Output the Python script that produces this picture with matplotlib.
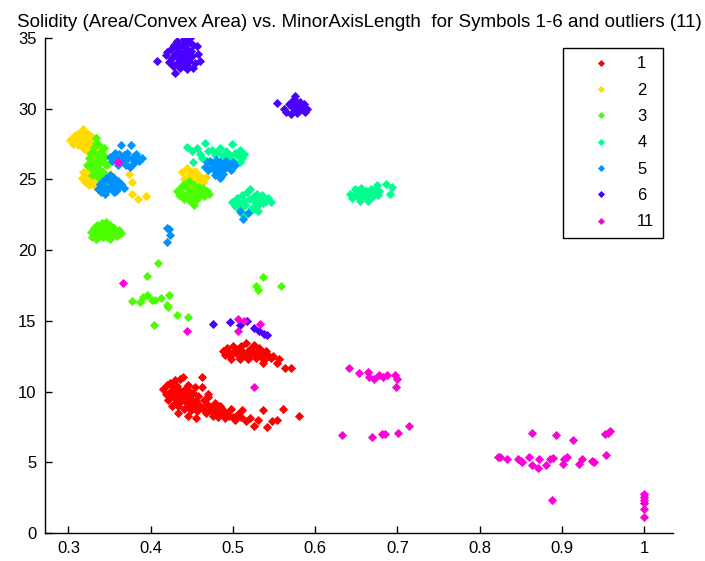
import matplotlib
matplotlib.use("Agg")
import matplotlib.pyplot as plt

plt.rcParams['font.family'] = ['Liberation Sans', 'DejaVu Sans']

title = "Solidity (Area/Convex Area) vs. MinorAxisLength  for Symbols 1-6 and outliers (11)"
labels = ["1", "2", "3", "4", "5", "6", "11"]
colors = ["#FF0000", "#FFDB00", "#49FF00", "#00FF92", "#0092FF", "#4900FF", "#FF00DB"]
xticks = [0.3, 0.4, 0.5, 0.6, 0.7, 0.8, 0.9, 1.0]
xticklabels = ["0.3", "0.4", "0.5", "0.6", "0.7", "0.8", "0.9", "1"]
yticks = [0, 5, 10, 15, 20, 25, 30, 35]

# ---- Symbol 1 (red)
s1_x = [0.488,0.490,0.493,0.495,0.497,0.500,0.502,0.504,0.506,0.508,0.510,0.512,0.514,0.516,0.518,0.520,0.522,0.524,0.526,0.528,0.530,0.532,0.534,0.536,0.538,0.540,0.543,0.546,0.549,0.553,0.556,0.563,0.571,0.498,0.508,0.518,0.528,0.537,
        0.415,0.418,0.420,0.421,0.423,0.424,0.425,0.427,0.428,0.429,0.430,0.431,0.432,0.433,0.434,0.435,0.436,0.437,0.438,0.439,0.440,0.441,0.442,0.443,0.444,0.445,0.446,0.447,0.448,0.449,0.450,0.451,0.452,0.453,0.454,0.455,0.456,0.458,0.460,0.462,0.463,0.465,0.467,0.469,0.470,0.472,0.474,0.476,0.478,0.480,0.482,0.484,0.486,0.488,0.490,0.492,0.495,0.498,0.500,0.503,0.506,0.510,0.511,0.516,0.521,0.526,0.531,0.536,0.542,0.547,0.553,0.561,0.580,0.462,0.470,0.445,0.455,0.433,0.439,0.426]
s1_y = [12.9,12.6,13.1,12.8,12.5,13.2,12.9,12.7,13.0,12.4,13.2,12.8,12.6,13.4,12.9,12.5,13.1,12.8,13.3,12.6,12.9,13.1,12.5,12.8,12.2,12.9,12.6,12.4,12.5,12.0,12.3,11.7,11.7,12.3,12.3,12.3,12.4,12.0,
        10.2,9.8,10.5,9.4,10.0,10.6,9.7,10.3,9.1,10.8,9.9,9.5,10.4,9.0,10.1,9.6,10.9,9.3,10.0,11.0,9.5,8.8,10.2,9.8,9.2,10.5,9.0,9.6,10.0,8.7,9.4,9.9,9.1,8.9,10.3,9.3,8.6,9.7,9.0,11.0,8.8,9.4,8.5,9.1,9.8,8.7,8.9,8.3,9.2,8.6,8.2,9.0,8.4,8.7,8.1,8.5,8.3,8.8,8.2,8.0,8.4,8.2,8.7,7.9,8.1,7.6,8.0,8.7,7.5,7.9,8.0,8.8,8.3,10.3,9.6,8.3,8.1,8.5,9.9,9.0]

# ---- Symbol 2 (yellow)
s2_x = [0.302,0.305,0.307,0.309,0.310,0.312,0.313,0.315,0.316,0.318,0.318,0.320,0.321,0.322,0.323,0.325,0.326,0.328,0.329,0.330,0.332,0.334,0.336,0.312,0.317,0.322,0.327,0.331,
        0.316,0.318,0.320,0.322,0.324,0.326,0.328,0.330,0.332,0.334,0.336,0.338,0.340,0.342,0.344,0.346,0.348,0.350,0.353,0.356,0.325,0.333,0.341,0.349,0.374,0.377,0.377,0.384,0.394,
        0.438,0.441,0.444,0.446,0.448,0.450,0.452,0.454,0.456,0.458,0.460,0.462,0.464,0.467,0.449,0.455]
s2_y = [27.8,27.5,28.1,27.7,28.2,27.4,27.9,28.3,27.6,28.6,27.2,28.0,27.5,28.3,27.8,27.3,28.1,27.6,28.0,27.1,27.7,27.9,27.4,28.0,28.4,27.0,26.8,26.6,
        25.1,25.5,24.8,25.3,25.7,24.9,25.2,25.5,24.7,25.1,25.4,24.9,25.6,25.2,24.8,25.3,25.0,25.4,25.1,24.9,24.6,24.5,24.6,24.7,25.4,24.8,24.0,23.6,23.8,
        25.5,25.0,25.8,25.3,24.8,25.5,25.1,25.6,24.9,25.3,24.7,25.1,24.8,25.2,24.5,24.6]

# ---- Symbol 3 (green)
s3_x = [0.322,0.325,0.327,0.328,0.330,0.331,0.332,0.333,0.334,0.335,0.336,0.337,0.338,0.339,0.340,0.341,0.342,0.343,0.344,0.345,0.347,0.329,0.336,0.340,0.333,
        0.432,0.435,0.437,0.439,0.441,0.443,0.445,0.447,0.449,0.451,0.453,0.455,0.457,0.459,0.461,0.463,0.465,0.468,0.471,0.440,0.448,0.456,0.453,
        0.327,0.329,0.331,0.333,0.335,0.337,0.339,0.341,0.343,0.345,0.347,0.349,0.351,0.353,0.355,0.357,0.359,0.361,0.364,0.334,0.342,0.350,0.358,0.346,
        0.409,0.395,0.377,0.387,0.391,0.396,0.401,0.405,0.413,0.422,0.420,0.421,0.432,0.445,0.404,0.537,0.528,0.530,0.558]
s3_y = [26.0,26.5,25.8,26.9,26.2,27.3,25.6,26.7,27.9,26.0,27.5,26.4,25.7,27.0,26.3,26.8,25.5,27.2,26.1,26.6,26.0,25.3,25.2,25.4,27.6,
        24.2,23.9,24.5,24.0,24.7,23.8,24.3,24.9,24.1,23.7,24.6,24.2,23.9,24.5,24.1,24.4,23.8,24.2,24.0,23.6,23.5,23.6,23.2,
        21.3,20.9,21.6,21.2,21.8,21.0,21.5,21.9,21.2,21.7,20.9,21.4,21.8,21.1,21.6,21.3,21.0,21.4,21.2,20.8,20.9,20.8,21.1,22.0,
        19.1,18.2,16.4,16.3,16.7,16.8,16.5,16.5,16.6,16.8,16.1,16.0,15.4,15.3,14.7,18.1,17.5,17.2,17.5]

# ---- Symbol 4 (teal)
s4_x = [0.444,0.450,0.456,0.460,0.466,0.470,0.474,0.478,0.480,0.484,0.488,0.491,0.494,0.497,0.499,0.502,0.505,0.508,0.511,0.514,0.451,0.462,0.468,0.486,0.495,0.500,0.509,
        0.499,0.502,0.505,0.507,0.509,0.511,0.513,0.515,0.517,0.519,0.521,0.523,0.525,0.527,0.529,0.531,0.533,0.535,0.537,0.540,0.543,0.546,0.510,0.520,0.530,0.515,0.525,
        0.642,0.645,0.648,0.650,0.652,0.654,0.656,0.658,0.660,0.662,0.664,0.666,0.668,0.670,0.672,0.674,0.676,0.678,0.686,0.693,0.691,0.655,0.665,0.675]
s4_y = [27.3,27.0,27.2,26.8,27.6,27.0,27.1,26.7,26.9,27.2,26.7,27.0,26.5,26.7,27.5,26.9,26.7,27.1,26.5,26.8,26.2,26.5,26.3,26.4,26.2,26.3,26.2,
        23.4,23.1,23.7,23.3,22.9,23.9,23.5,23.2,24.1,23.6,24.3,23.0,23.8,23.4,24.0,23.2,23.6,23.9,23.3,23.5,23.7,23.4,22.6,22.7,22.8,22.5,22.9,
        24.0,23.7,24.3,23.9,24.1,23.6,24.4,24.0,23.8,24.2,23.5,24.0,24.3,23.8,24.1,24.4,23.9,24.2,24.7,24.5,24.0,23.5,23.6,24.6]

# ---- Symbol 5 (blue)
s5_x = [0.350,0.353,0.356,0.358,0.360,0.362,0.364,0.365,0.367,0.369,0.371,0.373,0.375,0.376,0.378,0.380,0.382,0.384,0.386,0.389,0.360,0.370,0.378,
        0.336,0.338,0.340,0.342,0.344,0.346,0.348,0.350,0.352,0.354,0.356,0.358,0.360,0.362,0.364,0.367,0.345,0.355,0.350,
        0.466,0.468,0.470,0.472,0.474,0.476,0.478,0.480,0.482,0.484,0.486,0.488,0.490,0.492,0.494,0.496,0.498,0.500,0.503,0.478,0.488,0.484,
        0.509,0.518,0.512,0.420,0.423,0.420,0.422]
s5_y = [26.6,26.3,26.9,26.5,26.2,26.8,27.4,26.4,26.7,26.1,26.9,26.5,25.9,27.4,26.6,26.3,26.8,26.5,26.3,26.5,26.0,26.0,26.1,
        24.3,24.7,24.1,24.9,24.5,25.1,24.3,24.8,24.4,25.2,24.6,24.2,24.9,24.5,24.7,24.4,24.0,24.1,25.3,
        25.9,26.2,25.7,26.3,25.9,26.1,25.6,26.4,25.8,26.2,25.5,26.0,25.8,26.3,25.9,26.1,25.7,26.2,26.0,25.3,25.4,25.1,
        22.8,22.6,22.2,21.6,21.1,20.6,21.5]

# ---- Symbol 6 (purple)
s6_x = [0.408,0.418,0.420,0.422,0.425,0.426,0.428,0.430,0.430,0.432,0.433,0.434,0.435,0.436,0.437,0.438,0.439,0.440,0.441,0.442,0.443,0.444,0.445,0.446,0.447,0.448,0.449,0.450,0.452,0.454,0.456,0.458,0.460,0.430,0.436,0.440,0.444,0.427,0.433,0.451,
        0.553,0.562,0.565,0.568,0.570,0.572,0.574,0.575,0.577,0.578,0.580,0.582,0.584,0.586,0.588,0.590,0.571,0.576,0.581,
        0.476,0.497,0.508,0.517,0.525,0.532,0.538,0.541]
s6_y = [33.4,33.8,34.0,33.3,34.2,33.6,34.5,32.5,33.9,34.8,33.2,34.1,33.5,34.4,33.0,33.8,34.6,33.3,34.0,33.6,34.3,33.1,33.9,34.7,33.4,35.0,34.1,33.7,34.5,33.2,34.4,33.9,33.4,33.1,32.9,34.9,32.8,33.0,34.3,32.9,
        30.4,30.0,29.8,30.3,29.6,30.1,30.7,29.9,30.4,29.7,30.2,29.9,30.0,30.3,29.8,30.0,30.4,30.9,30.5,
        14.8,14.9,14.7,15.0,14.5,14.3,14.1,14.0]

# ---- Outliers 11 (magenta)
s11_x = [0.366,0.444,0.506,0.514,0.506,0.533,0.360,0.526,
         0.641,0.653,0.664,0.666,0.672,0.678,0.682,0.687,0.697,0.699,0.698,
         0.632,0.669,0.681,0.685,0.701,0.714,
         0.864,0.893,0.914,0.952,0.956,0.958,
         0.822,0.825,0.833,0.846,0.850,0.851,0.860,0.863,0.871,0.872,0.880,0.885,0.889,0.901,0.903,0.906,0.921,0.924,0.936,0.939,0.953,
         0.888,1.0,1.0,1.0,1.0,1.0,1.0]
s11_y = [17.7,14.3,15.1,15.0,14.3,14.8,26.2,10.3,
         11.7,11.3,11.4,11.0,10.9,11.2,11.0,11.2,11.2,10.9,10.3,
         6.9,6.8,7.0,7.0,7.1,7.6,
         7.1,6.9,6.6,7.0,7.1,7.2,
         5.4,5.4,5.2,5.2,5.1,5.0,5.4,4.8,4.6,5.2,4.8,5.2,5.3,4.9,5.2,5.4,4.9,5.2,5.1,5.0,5.5,
         2.3,2.76,2.55,2.3,2.1,1.7,1.1]

series_x = [s1_x, s2_x, s3_x, s4_x, s5_x, s6_x, s11_x]
series_y = [s1_y, s2_y, s3_y, s4_y, s5_y, s6_y, s11_y]

fig = plt.figure(figsize=(7.05, 5.61), dpi=100)
ax = fig.add_axes([45/705, 28/561, 628/705, 495/561])

for xs, ys, c, lab in zip(series_x, series_y, colors, labels):
    ax.plot(xs, ys, linestyle='none', marker='D', markersize=4.0,
            markerfacecolor=c, markeredgecolor=c, markeredgewidth=0.6, label=lab)

ax.set_xlim(0.2715, 1.035)
ax.set_ylim(0, 35)
ax.set_xticks(xticks)
ax.set_xticklabels(xticklabels)
ax.set_yticks(yticks)
ax.spines['top'].set_visible(False)
ax.spines['right'].set_visible(False)
for s in ['left', 'bottom']:
    ax.spines[s].set_linewidth(1.0)
    ax.spines[s].set_color('black')
ax.tick_params(direction='in', length=5, width=1, labelsize=12, pad=6, colors='black')
ax.set_title(title, fontsize=13.5, pad=8)

leg = ax.legend(loc='upper left', bbox_to_anchor=(563/705, (561-48)/561),
                bbox_transform=fig.transFigure, fontsize=12, frameon=True,
                fancybox=False, edgecolor='black', framealpha=1, markerscale=0.75,
                handlelength=3.6, handletextpad=0.35, labelspacing=0.68,
                borderpad=0.5, borderaxespad=0)
leg.get_frame().set_linewidth(1.0)

fig.savefig("out.png", dpi=100)
